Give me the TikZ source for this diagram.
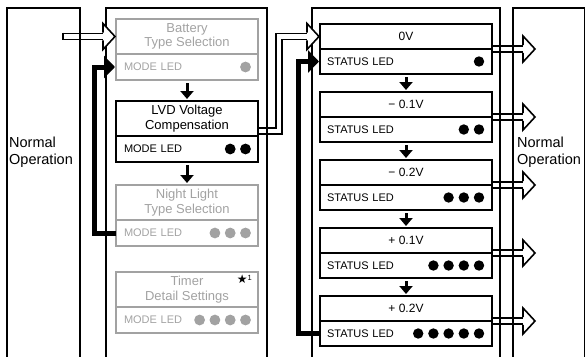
\documentclass[tikz,border=0pt]{standalone}
\usepackage{fontspec}
\setmainfont{Liberation Sans}
\newfontfamily\symfont{DejaVu Sans}
\usetikzlibrary{positioning,calc,arrows.meta}
\definecolor{ledgray}{HTML}{A2A2A2}

\begin{document}
\begin{tikzpicture}[
  x=1pt, y=-1pt,
  panel/.style={line width=1.8pt, draw=black},
  mtitle/.style={draw, line width=2.2pt, outer sep=0pt, inner sep=0pt, minimum width=142pt, minimum height=35pt, align=center, font=\fontsize{13}{14.5}\selectfont},
  mled/.style={draw, line width=2.2pt, outer sep=0pt, inner xsep=8pt, inner ysep=0pt, text width=126pt, align=left, minimum height=26pt, font=\fontsize{11}{13}\selectfont},
  faded/.style={draw=ledgray, text=ledgray},
  vtitle/.style={mtitle, minimum width=172pt, minimum height=25pt, font=\fontsize{12}{14}\selectfont},
  vled/.style={mled, text width=158pt, inner xsep=7pt, minimum height=25pt},
  optext/.style={anchor=west, inner sep=0pt, align=left, font=\fontsize{14.5}{16.5}\selectfont},
  hollow/.style={double, double distance=4.4pt, line width=1.6pt, line join=miter},
  downarrow/.style={line width=3pt, -{Triangle[width=13pt,length=8pt]}, shorten <=3pt, shorten >=2pt},
  loopline/.style={line width=5pt, line join=miter, -{Triangle[width=22pt,length=11pt]}, shorten >=1pt},
  hollowhead/.pic={
    \fill[white] (0,0) -- (-12,-13) -- (-12,13) -- cycle;
    \draw[line width=1.6pt, line join=miter] (-12,-3.8) -- (-12,-13) -- (0,0) -- (-12,13) -- (-12,3.8);
  }
]
  \useasboundingbox (0,0) rectangle (585,356);
  \clip (0,0) rectangle (585,356);

  % mode column
  \node[mtitle, faded] (bat) at (187,36.5) {Battery\\Type Selection};
  \node[mled, faded, below=0pt of bat] (batled) {MODE LED};
  \node[mtitle] (lvd) at (187,118.5) {LVD Voltage\\Compensation};
  \node[mled, below=0pt of lvd] (lvdled) {MODE LED};
  \node[mtitle, faded] (nig) at (187,202.5) {Night Light\\Type Selection};
  \node[mled, faded, below=0pt of nig] (nigled) {MODE LED};
  \node[mtitle, faded] (tim) at (187,289.5) {Timer\\Detail Settings};
  \node[mled, faded, below=0pt of tim] (timled) {MODE LED};

  % status column
  \foreach \i/\lab in {1/0V, 2/{− 0.1V}, 3/{− 0.2V}, 4/{+ 0.1V}, 5/{+ 0.2V}} {
    \node[vtitle] (v\i) at (406,{36.5+(\i-1)*68}) {\lab};
    \node[vled, below=0pt of v\i] (vl\i) {STATUS LED};
    \foreach \k in {1,...,\i}
      \fill ($(vl\i.east)+({-13-(\k-1)*15.2},0)$) circle[radius=5.2];
  }

  % led dots
  \fill[ledgray] ($(batled.east)+(-12.5,0)$) circle[radius=5.4];
  \foreach \k in {1,2}
    \fill ($(lvdled.east)+({-12.5-(\k-1)*15.3},0)$) circle[radius=5.4];
  \foreach \k in {1,2,3}
    \fill[ledgray] ($(nigled.east)+({-12.5-(\k-1)*15.3},0)$) circle[radius=5.4];
  \foreach \k in {1,...,4}
    \fill[ledgray] ($(timled.east)+({-12.5-(\k-1)*15.3},0)$) circle[radius=5.4];

  \node[inner sep=0pt, anchor=north east] (star) at ($(tim.north east)+(-6,3)$)
    {{\symfont\fontsize{12}{12}\selectfont ★}\raisebox{3pt}{\fontsize{7.5}{8}\selectfont 1}};

  % hollow shafts
  \coordinate (inL) at (63,36.5);
  \draw[hollow] (inL) -- ($(bat.west)+(-13,0)$);
  \draw[hollow, shorten <=1.1pt] ($(lvd.south east)+(0,-5)$) -| ($(v1.west)+(-41,0)$) -- ($(v1.west)+(-13,0)$);
  \foreach \i in {1,...,5} {
    \coordinate (out\i) at ($(v\i.south east)+(43,0)$);
    \draw[hollow, shorten <=1.1pt] (v\i.south east) -- ($(out\i)+(-12,0)$);
  }

  % panels
  \draw[panel] (7,360) |- (80,8) -- (80,360);
  \draw[panel] (106,360) |- (267,8) -- (267,360);
  \draw[panel] (312,360) |- (500,8) -- (500,360);
  \draw[panel] (513,360) |- (585,8) -- (585,360);

  \node[optext] (opL) at (9,152) {Normal\\Operation};
  \node[optext] (opR) at (517,152) {Normal\\Operation};

  % hollow heads
  \draw[line width=1.6pt] ($(inL)+(0,-3.8)$) -- ($(inL)+(0,3.8)$);
  \pic at ($(bat.west)+(-1,0)$) {hollowhead};
  \pic at ($(v1.west)+(-1,0)$) {hollowhead};
  \foreach \i in {1,...,5}
    \pic at (out\i) {hollowhead};

  % loops back
  \draw[loopline] (nigled.west) -- ++(-22,0) |- (batled.west);
  \draw[loopline] (vl5.west) -- ++(-22,0) |- (vl1.west);

  % steps down
  \draw[downarrow] (batled) -- (lvd);
  \draw[downarrow] (lvdled) -- (nig);
  \foreach \i [evaluate=\i as \j using int(\i+1)] in {1,...,4}
    \draw[downarrow] (vl\i) -- (v\j);
\end{tikzpicture}
\end{document}
